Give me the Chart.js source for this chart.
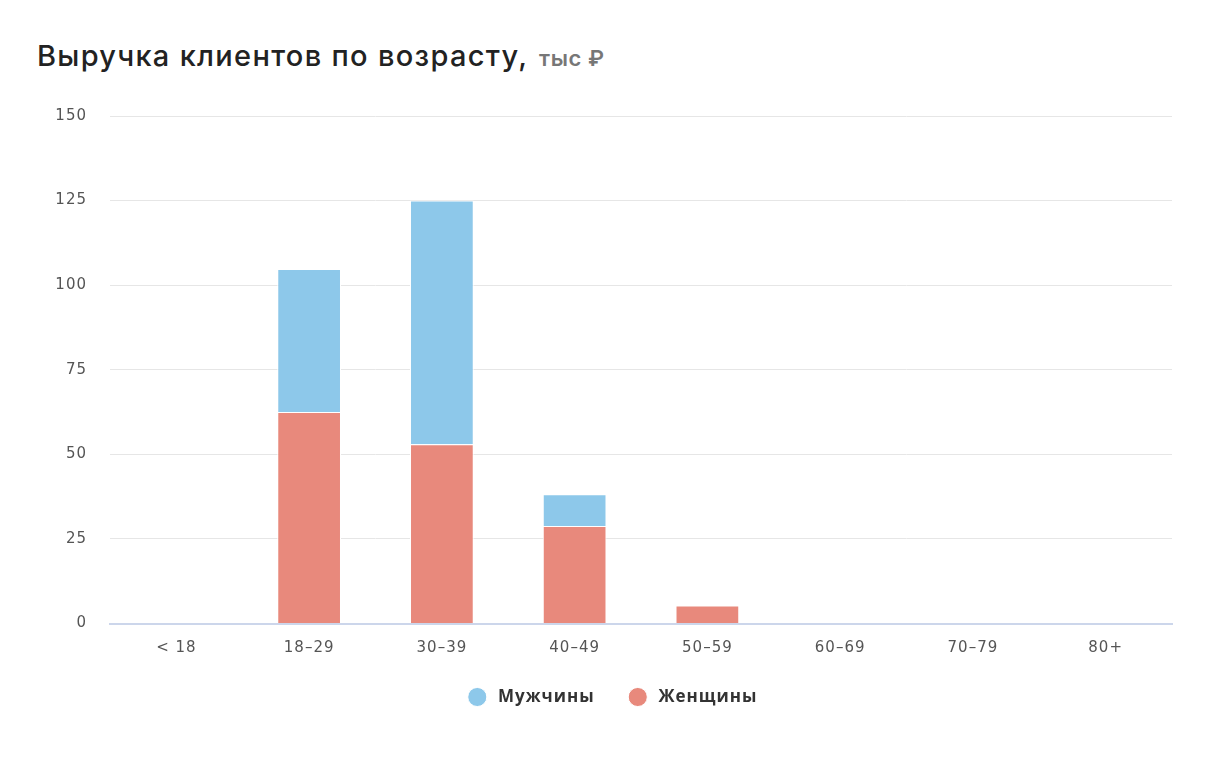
<!DOCTYPE html>
<html>
<head>
<meta charset="utf-8">
<script src="https://cdn.jsdelivr.net/npm/chart.js@4/dist/chart.umd.min.js"></script>
<style>
    html, body {margin: 0; padding: 0; background: #fff;}
    #wrap {position: relative; width: 1228px; height: 776px;}
    #title {
        position: absolute; left: 37px; top: 38px;
        font-family: Inter, Roboto, sans-serif; font-size: 29px; font-weight: 500; color: #222;
        letter-spacing: 1.3px; white-space: nowrap;
    }
    #title span {font-size: 22px; color: #777; font-weight: 600; letter-spacing: 0.6px; margin-left: 2px;}
    canvas {position: absolute; left: 0; top: 0;}
</style>
</head>
<body>
<div id="wrap">
    <div id="title">Выручка клиентов по возрасту, <span>тыс ₽</span></div>
    <canvas id="chart" width="1228" height="776"></canvas>
</div>
<script>
const ageGroups = ['< 18', '18–29', '30–39', '40–49', '50–59', '60–69', '70–79', '80+']
const womenValues = [0, 62.5, 53, 28.8, 5.3, 0, 0, 0]
const menValues = [0, 42.3, 72, 9.4, 0, 0, 0, 0]
const yTicks = [0, 25, 50, 75, 100, 125, 150]

const colors = {
    men: '#8DC8EA',
    women: '#E8897C'
}

// wider letter spacing, like the original
const spacing = {
    id: 'spacing',
    beforeLayout: chart => { chart.ctx.letterSpacing = '1px' },
    beforeDraw: chart => { chart.ctx.letterSpacing = '1px' }
}

new Chart(document.getElementById('chart'), {
    type: 'bar',
    plugins: [spacing],
    data: {
        labels: ageGroups,
        datasets: [{
            label: 'Женщины',
            data: womenValues,
            backgroundColor: colors.women,
            borderColor: '#ffffff',
            borderWidth: 1,
            barPercentage: 0.48,
            categoryPercentage: 1
        }, {
            label: 'Мужчины',
            data: menValues,
            backgroundColor: colors.men,
            borderColor: '#ffffff',
            borderWidth: 1,
            barPercentage: 0.48,
            categoryPercentage: 1
        }]
    },
    options: {
        responsive: false,
        animation: false,
        layout: {padding: {top: 116, right: 0, bottom: 60.5, left: 0}},
        plugins: {
            tooltip: {enabled: false},
            legend: {
                position: 'bottom',
                reverse: true,
                labels: {
                    usePointStyle: true,
                    pointStyle: 'circle',
                    boxWidth: 13.5,
                    boxHeight: 13.5,
                    padding: 31,
                    color: '#333',
                    font: {family: '"Open Sans", sans-serif', size: 17, weight: 'bold'},
                    // extra space after the circle, and after the first item
                    generateLabels: chart => Chart.defaults.plugins.legend.labels.generateLabels(chart)
                        .map(item => ({...item, text: ' ' + item.text + (item.datasetIndex === 1 ? ' ' : '')}))
                }
            }
        },
        scales: {
            x: {
                stacked: true,
                afterFit: s => { s.height = 34 },
                grid: {display: false},
                border: {display: true, color: '#ccd6eb', width: 2},
                ticks: {
                    color: '#555',
                    padding: 8,
                    font: {family: '"DejaVu Sans", sans-serif', size: 15}
                }
            },
            y: {
                stacked: true,
                min: 0,
                max: 150,
                afterFit: s => { s.width = 110 },
                afterBuildTicks: s => { s.ticks = yTicks.map(v => ({value: v})) },
                grid: {color: '#e6e6e6', lineWidth: 1, drawTicks: false},
                border: {display: false},
                ticks: {
                    color: '#555',
                    padding: 23,
                    font: {family: '"DejaVu Sans", sans-serif', size: 15}
                }
            },
            // empty right-hand strip so the legend stays centred on the page
            yRight: {
                position: 'right',
                min: 0,
                max: 150,
                afterFit: s => { s.width = 56 },
                grid: {display: false},
                border: {display: false},
                ticks: {display: false}
            }
        }
    }
})
</script>
</body>
</html>
